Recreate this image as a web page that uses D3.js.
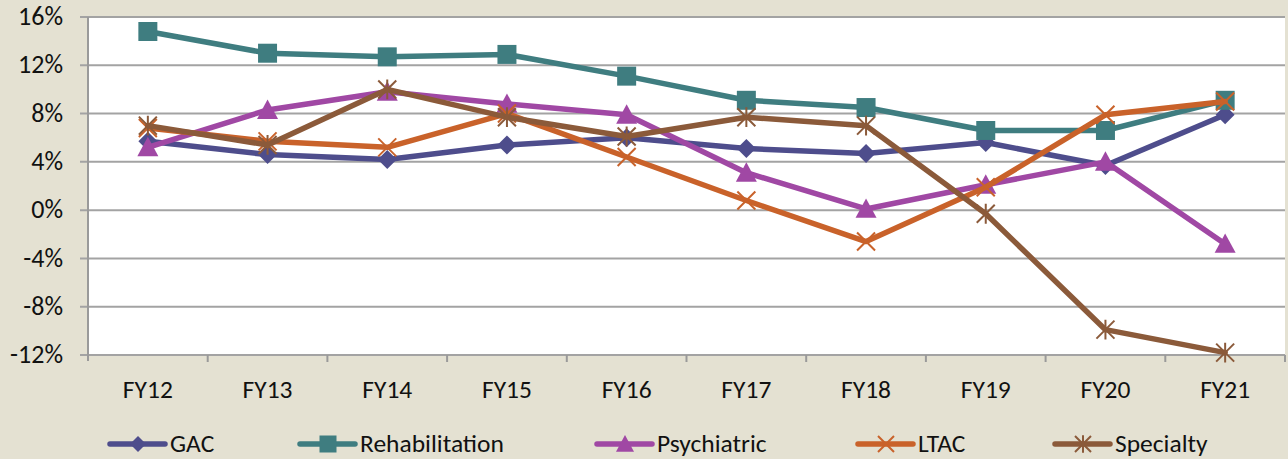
<!DOCTYPE html>
<html><head><meta charset="utf-8">
<script src="https://cdn.jsdelivr.net/npm/d3@7"></script>
<style>
html,body{margin:0;padding:0;background:#E4E1D2;}
svg{display:block;font-family:Carlito,Lato,"Open Sans",sans-serif;}
</style></head><body>
<svg id="c" width="1288" height="459"></svg>
<script>
const categories = ["FY12","FY13","FY14","FY15","FY16","FY17","FY18","FY19","FY20","FY21"];
const gac = [5.7,4.6,4.2,5.4,6.0,5.1,4.7,5.6,3.7,7.9];
const rehab = [14.8,13.0,12.7,12.9,11.1,9.1,8.5,6.6,6.6,9.1];
const psych = [5.2,8.3,9.8,8.8,7.9,3.1,0.1,2.1,4.0,-2.8];
const ltac = [6.8,5.7,5.2,8.0,4.4,0.8,-2.6,1.9,7.9,9.0];
const specialty = [7.0,5.4,10.0,7.7,6.1,7.7,7.0,-0.3,-9.9,-11.8];
const yTicks = [16,12,8,4,0,-4,-8,-12];
const seriesNames = ["GAC","Rehabilitation","Psychiatric","LTAC","Specialty"];
const seriesColors = ["#4E4D8C","#3F7D80","#A048A4","#C9622A","#8B5A3A"];
const seriesMarkers = ["diamond","square","triangle","x","star"];

const series = [gac,rehab,psych,ltac,specialty].map((v,i)=>({name:seriesNames[i],values:v,color:seriesColors[i],marker:seriesMarkers[i]}));

const svg = d3.select("#c");
const L=88, R=1285, T=17, B=355;
const x = d3.scaleBand().domain(categories).range([L,R]);
const y = d3.scaleLinear().domain([-12,16]).range([B,T]);

svg.append("rect").attr("x",L).attr("y",T).attr("width",R-L).attr("height",B-T).attr("fill","#fff");

svg.append("g").selectAll("line").data(yTicks).join("line")
  .attr("x1",L-8).attr("x2",R).attr("y1",d=>y(d)).attr("y2",d=>y(d))
  .attr("stroke","#A3A3A3").attr("stroke-width",2);

svg.append("line").attr("x1",L).attr("x2",L).attr("y1",T).attr("y2",B+6).attr("stroke","#9A9A9A").attr("stroke-width",2);
const bounds = categories.map(c=>x(c)).concat([x(categories[categories.length-1])+x.bandwidth()]);
svg.append("g").selectAll("line").data(bounds.slice(1)).join("line")
  .attr("x1",d=>d).attr("x2",d=>d).attr("y1",B).attr("y2",B+7).attr("stroke","#9A9A9A").attr("stroke-width",2);

svg.append("g").selectAll("text").data(yTicks).join("text")
  .attr("x",63).attr("y",d=>y(d)+8.2).attr("text-anchor","end")
  .attr("font-size",26).attr("fill","#111").text(d=>d+"%");

svg.append("g").selectAll("text").data(categories).join("text")
  .attr("x",d=>x(d)+x.bandwidth()/2).attr("y",398).attr("text-anchor","middle")
  .attr("font-size",25.5).attr("fill","#111").text(d=>d);

function markerPath(type, s){
  const h=s/2;
  switch(type){
    case "diamond": return `M0,${-h}L${h},0L0,${h}L${-h},0Z`;
    case "square": return `M${-h},${-h}H${h}V${h}H${-h}Z`;
    case "triangle": return `M0,${-h}L${h},${h*0.85}L${-h},${h*0.85}Z`;
    case "x": return `M${-h},${-h}L${h},${h}M${h},${-h}L${-h},${h}`;
    case "star": return `M${-h},${-h}L${h},${h}M${h},${-h}L${-h},${h}M0,${-h*1.1}V${h*1.1}`;
  }
}
const msize = {diamond:19,square:19,triangle:21,x:18,star:18};
const lsize = {diamond:16,square:17,triangle:18,x:16,star:16};

const line = d3.line().x((d,i)=>x(categories[i])+x.bandwidth()/2).y(d=>y(d));
series.forEach(s=>{
  const g = svg.append("g");
  g.append("path").attr("d",line(s.values)).attr("fill","none").attr("stroke",s.color)
    .attr("stroke-width",5.5).attr("stroke-linejoin","round").attr("stroke-linecap","round");
  const stroked = s.marker==="x"||s.marker==="star";
  g.selectAll("path.m").data(s.values).join("path").attr("class","m")
    .attr("transform",(d,i)=>`translate(${x(categories[i])+x.bandwidth()/2},${y(d)})`)
    .attr("d",markerPath(s.marker,msize[s.marker]))
    .attr("fill",stroked?"none":s.color)
    .attr("stroke",s.color).attr("stroke-width",stroked?2:0);
});

const legX = [110,300,597,858,1055];
const lg = svg.append("g");
series.forEach((s,i)=>{
  const g = lg.append("g").attr("transform",`translate(${legX[i]},444)`);
  g.append("line").attr("x1",0).attr("x2",55).attr("y1",0).attr("y2",0).attr("stroke",s.color).attr("stroke-width",5.5).attr("stroke-linecap","round");
  const stroked = s.marker==="x"||s.marker==="star";
  g.append("path").attr("transform","translate(28,0)").attr("d",markerPath(s.marker,lsize[s.marker]))
    .attr("fill",stroked?"none":s.color).attr("stroke",s.color).attr("stroke-width",stroked?2:0);
  g.append("text").attr("x",60).attr("y",8.3).attr("font-size",25.5).attr("fill","#111").text(s.name);
});
</script>
</body></html>
